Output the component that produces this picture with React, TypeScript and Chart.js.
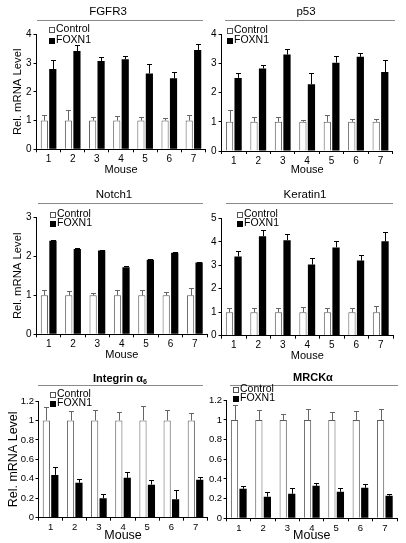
import React, { useEffect, useRef } from 'react';
import { Chart, registerables } from 'chart.js';

Chart.register(...registerables);

const FONT = '"Liberation Sans", Arial, Helvetica, sans-serif';

// ---------- data ----------
const MICE = ['1', '2', '3', '4', '5', '6', '7'];
const SERIES = ['Control', 'FOXN1'];
const Y_TITLE = 'Rel. mRNA Level';
const X_TITLE = 'Mouse';

const FGFR3_CTRL = [1, 1, 1, 1, 1, 1, 1];
const FGFR3_CTRL_ERR = [0.19, 0.35, 0.14, 0.16, 0.14, 0.1, 0.19];
const FGFR3_FOXN1 = [2.79, 3.42, 3.07, 3.13, 2.64, 2.47, 3.45];
const FGFR3_FOXN1_ERR = [0.31, 0.21, 0.13, 0.1, 0.31, 0.23, 0.2];

const P53_CTRL = [1, 1, 1, 1, 1, 1, 1];
const P53_CTRL_ERR = [0.39, 0.17, 0.15, 0.05, 0.23, 0.11, 0.08];
const P53_FOXN1 = [2.5, 2.82, 3.3, 2.28, 3.02, 3.22, 2.7];
const P53_FOXN1_ERR = [0.18, 0.11, 0.2, 0.4, 0.23, 0.13, 0.42];

const NOTCH1_CTRL = [1, 1, 1, 1, 1, 1, 1];
const NOTCH1_CTRL_ERR = [0.13, 0.12, 0.07, 0.13, 0.13, 0.08, 0.18];
const NOTCH1_FOXN1 = [2.4, 2.19, 2.15, 1.72, 1.91, 2.09, 1.84];
const NOTCH1_FOXN1_ERR = [0.03, 0.02, 0.02, 0.03, 0.02, 0.02, 0.02];

const KRT1_CTRL = [1, 1, 1, 1, 1, 1, 1];
const KRT1_CTRL_ERR = [0.2, 0.16, 0.16, 0.24, 0.2, 0.2, 0.27];
const KRT1_FOXN1 = [3.37, 4.24, 4.07, 3.03, 3.76, 3.2, 4.02];
const KRT1_FOXN1_ERR = [0.23, 0.25, 0.25, 0.27, 0.28, 0.25, 0.4];

const ITGA6_CTRL = [1, 1, 1, 1, 1, 1, 1];
const ITGA6_CTRL_ERR = [0.14, 0.1, 0.11, 0.09, 0.15, 0.11, 0.08];
const ITGA6_FOXN1 = [0.44, 0.36, 0.2, 0.41, 0.34, 0.19, 0.39];
const ITGA6_FOXN1_ERR = [0.08, 0.04, 0.04, 0.06, 0.05, 0.09, 0.03];

const MRCK_CTRL = [1, 1, 1, 1, 1, 1, 1];
const MRCK_CTRL_ERR = [0.15, 0.1, 0.06, 0.11, 0.08, 0.09, 0.11];
const MRCK_FOXN1 = [0.3, 0.22, 0.25, 0.33, 0.27, 0.31, 0.23];
const MRCK_FOXN1_ERR = [0.03, 0.05, 0.06, 0.03, 0.04, 0.035, 0.02];

// ---------- layout ----------
type Rect = { l: number; t: number; w: number; h: number };
interface PanelDef {
  title: string;
  titleSub?: string;
  titleBold?: boolean;
  titleSize: number;
  ctrl: number[];
  ctrlErr: number[];
  fox: number[];
  foxErr: number[];
  yMax: number;
  yStep: number;
  showYTitle: boolean;
  canvas: Rect;
  axisX: number;
  right: number;
  top: number;
  bottom: number;
  titleX: number;
  titleY: number;
  ruleX1: number;
  ruleX2: number;
  ruleY: number;
  legendX: number;
  legendY1: number;
  legendY2: number;
  legendSize: number;
  yTitleX: number;
  yTitleSize: number;
  xTitleY: number;
  xTitleSize: number;
  tickSize: number;
  yTickPad: number;
}

const LEFT_C = { l: 0, w: 210 };
const RIGHT_C = { l: 205, w: 201 };

const PANELS: PanelDef[] = [
  {
    title: 'FGFR3', titleSize: 11.5,
    ctrl: FGFR3_CTRL, ctrlErr: FGFR3_CTRL_ERR, fox: FGFR3_FOXN1, foxErr: FGFR3_FOXN1_ERR,
    yMax: 4, yStep: 1, showYTitle: true,
    canvas: { ...LEFT_C, t: 0, h: 180 },
    axisX: 36.5, right: 205.5, top: 34.3, bottom: 149.3,
    titleX: 108, titleY: 12, ruleX1: 37, ruleX2: 203, ruleY: 20,
    legendX: 49, legendY1: 29, legendY2: 40, legendSize: 10.5,
    yTitleX: 18, yTitleSize: 11.3, xTitleY: 170, xTitleSize: 11, tickSize: 10, yTickPad: 2,
  },
  {
    title: 'p53', titleSize: 11.5,
    ctrl: P53_CTRL, ctrlErr: P53_CTRL_ERR, fox: P53_FOXN1, foxErr: P53_FOXN1_ERR,
    yMax: 4, yStep: 1, showYTitle: false,
    canvas: { ...RIGHT_C, t: 0, h: 180 },
    axisX: 221.6, right: 392.7, top: 34, bottom: 151,
    titleX: 306, titleY: 12, ruleX1: 225, ruleX2: 395, ruleY: 20,
    legendX: 227, legendY1: 30, legendY2: 40, legendSize: 10.5,
    yTitleX: 0, yTitleSize: 11.3, xTitleY: 170, xTitleSize: 11, tickSize: 10, yTickPad: 2,
  },
  {
    title: 'Notch1', titleSize: 11.5,
    ctrl: NOTCH1_CTRL, ctrlErr: NOTCH1_CTRL_ERR, fox: NOTCH1_FOXN1, foxErr: NOTCH1_FOXN1_ERR,
    yMax: 3, yStep: 1, showYTitle: true,
    canvas: { ...LEFT_C, t: 180, h: 185 },
    axisX: 36.5, right: 207, top: 217.3, bottom: 334.3,
    titleX: 114, titleY: 195, ruleX1: 38, ruleX2: 203, ruleY: 203,
    legendX: 50, legendY1: 214, legendY2: 223, legendSize: 10.5,
    yTitleX: 18, yTitleSize: 11.3, xTitleY: 355, xTitleSize: 11, tickSize: 10, yTickPad: 2,
  },
  {
    title: 'Keratin1', titleSize: 11.5,
    ctrl: KRT1_CTRL, ctrlErr: KRT1_CTRL_ERR, fox: KRT1_FOXN1, foxErr: KRT1_FOXN1_ERR,
    yMax: 5, yStep: 1, showYTitle: false,
    canvas: { ...RIGHT_C, t: 180, h: 185 },
    axisX: 221.5, right: 393, top: 218.3, bottom: 335.7,
    titleX: 305, titleY: 195, ruleX1: 226, ruleX2: 393, ruleY: 203,
    legendX: 236.7, legendY1: 214, legendY2: 223, legendSize: 10.5,
    yTitleX: 0, yTitleSize: 11.3, xTitleY: 356, xTitleSize: 11, tickSize: 10, yTickPad: 2,
  },
  {
    title: 'Integrin \u03B1', titleSub: '6', titleBold: true, titleSize: 11,
    ctrl: ITGA6_CTRL, ctrlErr: ITGA6_CTRL_ERR, fox: ITGA6_FOXN1, foxErr: ITGA6_FOXN1_ERR,
    yMax: 1.2, yStep: 0.2, showYTitle: true,
    canvas: { ...LEFT_C, t: 365, h: 178 },
    axisX: 38.5, right: 207.6, top: 401, bottom: 517.7,
    titleX: 120, titleY: 379, ruleX1: 38, ruleX2: 203, ruleY: 385,
    legendX: 50, legendY1: 394, legendY2: 403, legendSize: 10.5,
    yTitleX: 13.5, yTitleSize: 12.5, xTitleY: 535.5, xTitleSize: 12.5, tickSize: 9.5, yTickPad: 1.5,
  },
  {
    title: 'MRCK\u03B1', titleBold: true, titleSize: 11,
    ctrl: MRCK_CTRL, ctrlErr: MRCK_CTRL_ERR, fox: MRCK_FOXN1, foxErr: MRCK_FOXN1_ERR,
    yMax: 1.2, yStep: 0.2, showYTitle: false,
    canvas: { ...RIGHT_C, t: 365, h: 178 },
    axisX: 226.6, right: 397, top: 400.3, bottom: 518.3,
    titleX: 313, titleY: 378, ruleX1: 230, ruleX2: 398, ruleY: 385,
    legendX: 233, legendY1: 389, legendY2: 398, legendSize: 10.5,
    yTitleX: 0, yTitleSize: 12.5, xTitleY: 535.5, xTitleSize: 12.5, tickSize: 9.5, yTickPad: 1.5,
  },
];

function Panel({ p }: { p: PanelDef }) {
  const ref = useRef<HTMLCanvasElement>(null);

  useEffect(() => {
    const c = p.canvas;
    const yW = p.axisX - c.l;
    const padTop = p.top - c.t;
    const padRight = c.l + c.w - p.right;
    const xH = c.t + c.h - p.bottom;
    const xLH = p.xTitleSize * 1.2;
    const yLH = p.yTitleSize * 1.2;
    const errs = [p.ctrlErr, p.foxErr];

    const decor = {
      id: 'decor',
      afterDatasetsDraw(chart: any) {
        const ctx = chart.ctx;
        const ys = chart.scales.y;
        chart.data.datasets.forEach((ds: any, i: number) => {
          const meta = chart.getDatasetMeta(i);
          ctx.save();
          ctx.strokeStyle = i === 0 ? '#666' : '#000';
          ctx.lineWidth = 1;
          meta.data.forEach((el: any, j: number) => {
            const v = ds.data[j] + errs[i][j];
            const yt = Math.round(ys.getPixelForValue(v)) + 0.5;
            const x = Math.round(el.x) + 0.5;
            ctx.beginPath();
            ctx.moveTo(x, el.y);
            ctx.lineTo(x, yt);
            ctx.moveTo(x - 2.5, yt);
            ctx.lineTo(x + 2.5, yt);
            ctx.stroke();
          });
          ctx.restore();
        });
      },
      afterDraw(chart: any) {
        const ctx = chart.ctx;
        const ox = c.l;
        const oy = c.t;
        ctx.save();
        // panel title
        ctx.fillStyle = '#000';
        ctx.textBaseline = 'middle';
        const tf = `${p.titleBold ? 'bold ' : ''}${p.titleSize}px ${FONT}`;
        ctx.font = tf;
        if (p.titleSub) {
          const mainW = ctx.measureText(p.title).width;
          const sf = `${p.titleBold ? 'bold ' : ''}${p.titleSize * 0.65}px ${FONT}`;
          ctx.font = sf;
          const subW = ctx.measureText(p.titleSub).width;
          const x0 = p.titleX - ox - (mainW + subW) / 2;
          ctx.font = tf;
          ctx.textAlign = 'left';
          ctx.fillText(p.title, x0, p.titleY - oy);
          ctx.font = sf;
          ctx.fillText(p.titleSub, x0 + mainW, p.titleY - oy + 3);
        } else {
          ctx.textAlign = 'center';
          ctx.fillText(p.title, p.titleX - ox, p.titleY - oy);
        }
        // rule under title
        ctx.strokeStyle = '#8a8a8a';
        ctx.lineWidth = 1;
        const ry = Math.round(p.ruleY - oy) + 0.5;
        ctx.beginPath();
        ctx.moveTo(p.ruleX1 - ox, ry);
        ctx.lineTo(p.ruleX2 - ox, ry);
        ctx.stroke();
        // legend
        const ly = [p.legendY1, p.legendY2];
        chart.data.datasets.forEach((ds: any, i: number) => {
          const sx = Math.round(p.legendX - ox) + 0.5;
          const sy = Math.round(ly[i] - oy - 2.5) + 0.5;
          ctx.fillStyle = i === 0 ? '#fff' : '#000';
          ctx.fillRect(sx, sy, 5, 5);
          ctx.strokeStyle = i === 0 ? '#555' : '#000';
          ctx.strokeRect(sx, sy, 5, 5);
          ctx.fillStyle = '#000';
          ctx.font = `${p.legendSize}px ${FONT}`;
          ctx.textAlign = 'left';
          ctx.textBaseline = 'middle';
          ctx.fillText(ds.label, sx + 6.5, ly[i] - oy + 0.5);
        });
        ctx.restore();
      },
    };

    const chart = new Chart(ref.current as HTMLCanvasElement, {
      type: 'bar',
      data: {
        labels: MICE,
        datasets: [
          {
            label: SERIES[0],
            data: p.ctrl,
            backgroundColor: '#ffffff',
            borderColor: '#5a5a5a',
            borderWidth: 1,
          },
          {
            label: SERIES[1],
            data: p.fox,
            backgroundColor: '#000000',
            borderColor: '#000000',
            borderWidth: 0,
          },
        ],
      },
      options: {
        animation: false,
        responsive: false,
        devicePixelRatio: 1,
        events: [],
        layout: { padding: { left: 0, top: padTop, right: padRight, bottom: 0 } },
        datasets: { bar: { categoryPercentage: 0.7, barPercentage: 0.85 } },
        plugins: {
          legend: { display: false },
          title: { display: false },
          tooltip: { enabled: false },
        },
        scales: {
          x: {
            offset: true,
            grid: {
              display: true,
              drawOnChartArea: false,
              drawTicks: true,
              tickLength: 3,
              color: '#000',
              offset: true,
            },
            border: { display: true, color: '#000', width: 1 },
            ticks: {
              color: '#000',
              font: { family: FONT, size: p.tickSize },
              padding: 1,
              maxRotation: 0,
              autoSkip: false,
            },
            title: {
              display: true,
              text: X_TITLE,
              color: '#000',
              font: { family: FONT, size: p.xTitleSize },
              padding: { top: 0, bottom: c.t + c.h - p.xTitleY - xLH / 2 },
            },
            afterFit: (s: any) => {
              s.height = xH;
            },
          },
          y: {
            min: 0,
            max: p.yMax,
            ticks: {
              stepSize: p.yStep,
              color: '#000',
              font: { family: FONT, size: p.tickSize },
              padding: p.yTickPad,
              callback: (v: any) => String(Math.round(Number(v) * 10) / 10),
            },
            grid: {
              display: true,
              drawOnChartArea: false,
              drawTicks: true,
              tickLength: 3,
              color: '#000',
            },
            border: { display: true, color: '#000', width: 1 },
            title: {
              display: p.showYTitle,
              text: Y_TITLE,
              color: '#000',
              font: { family: FONT, size: p.yTitleSize },
              padding: { top: Math.max(p.yTitleX - c.l - yLH / 2, 0), bottom: 0 },
            },
            afterFit: (s: any) => {
              s.width = yW;
            },
          },
        },
      } as any,
      plugins: [decor],
    });
    return () => chart.destroy();
  }, [p]);

  return (
    <canvas
      ref={ref}
      width={p.canvas.w}
      height={p.canvas.h}
      style={{
        position: 'absolute',
        left: p.canvas.l,
        top: p.canvas.t,
        width: p.canvas.w,
        height: p.canvas.h,
      }}
    />
  );
}

export default function App() {
  return (
    <div
      style={{
        position: 'absolute',
        left: 0,
        top: 0,
        width: 406,
        height: 543,
        background: '#fff',
        overflow: 'hidden',
      }}
    >
      {PANELS.map((p, i) => (
        <Panel key={i} p={p} />
      ))}
    </div>
  );
}
